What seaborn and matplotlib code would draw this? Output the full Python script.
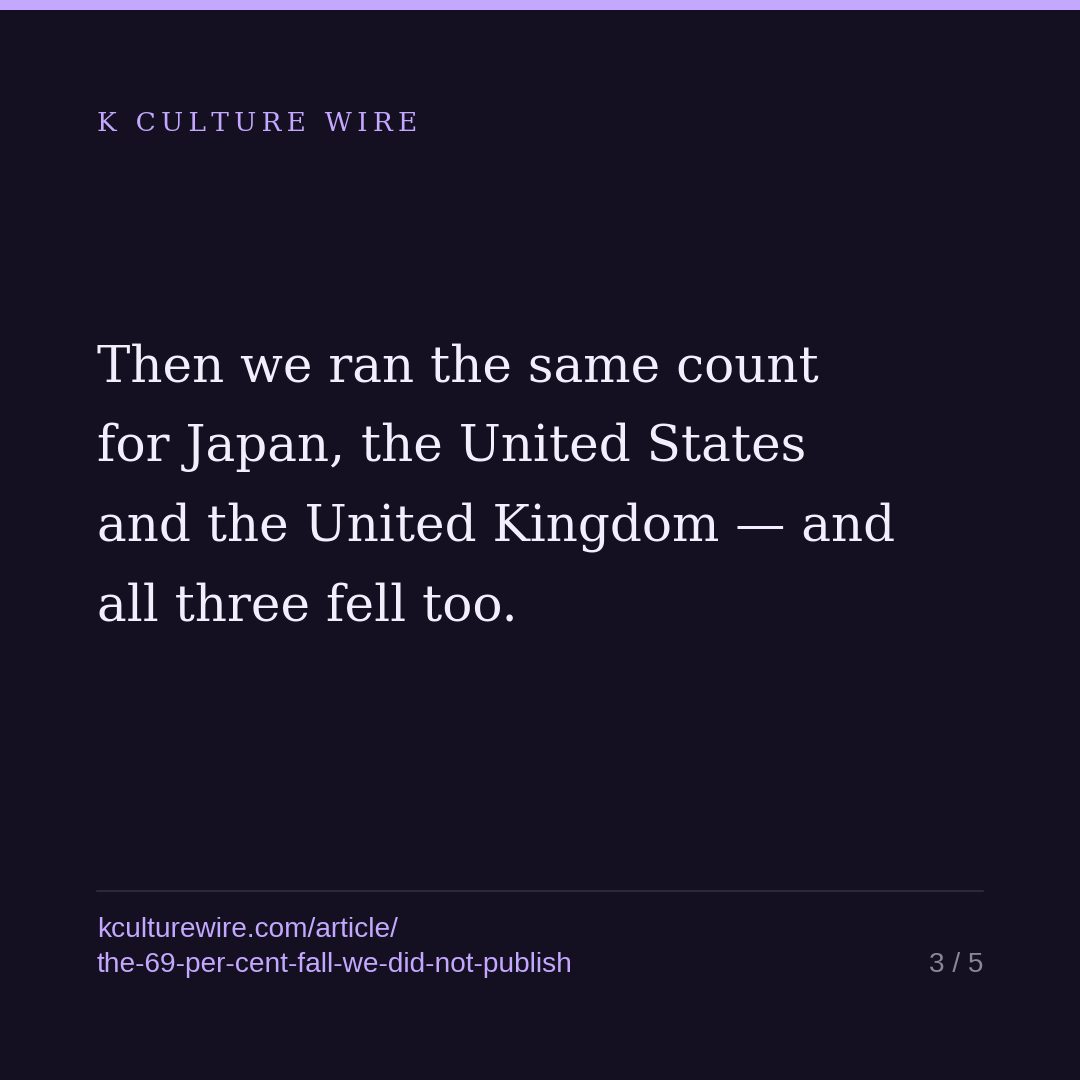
import matplotlib
matplotlib.use("Agg")
import matplotlib.pyplot as plt
import seaborn as sns

# ------------------------------------------------------------------ #
# card content
brand = "K CULTURE WIRE"
headline_lines = [
    "Then we ran the same count",
    "for Japan, the United States",
    "and the United Kingdom \u2014 and",
    "all three fell too.",
]
url_lines = ["kculturewire.com/article/", "the-69-per-cent-fall-we-did-not-publish"]
page_label = "3 / 5"

# colours
BG = "#141021"
ACCENT = "#c4a8ff"
HEAD = "#f3eefb"
MUTED = "#8b8697"
RULE = "#2c2838"

sns.set_theme(style="dark", rc={"axes.facecolor": BG, "figure.facecolor": BG})
plt.rcParams["font.family"] = ["DejaVu Serif"]

fig = plt.figure(figsize=(10.8, 10.8), dpi=100)
ax = fig.add_axes([0, 0, 1, 1])
ax.set_xlim(0, 1080)
ax.set_ylim(1080, 0)
ax.axis("off")

# top accent bar
ax.axhspan(0, 10, color=ACCENT, lw=0)

# brand, letter spaced
spaced = "\u2009".join(brand)
ax.text(97, 131, spaced, color=ACCENT, fontsize=19, family=["DejaVu Serif"],
        va="baseline", ha="left")

# headline
for i, line in enumerate(headline_lines):
    ax.text(97, 382 + i * 79.5, line, color=HEAD, fontsize=36,
            family=["DejaVu Serif"], va="baseline", ha="left")

# divider
sns.lineplot(x=[97, 983], y=[891, 891], color=RULE, lw=1.5, ax=ax)

# footer
for i, line in enumerate(url_lines):
    ax.text(97, 937 + i * 35, line, color=ACCENT, fontsize=20.2,
            family=["Liberation Sans"], va="baseline", ha="left")
ax.text(983, 972, page_label, color=MUTED, fontsize=20.2,
        family=["Liberation Sans"], va="baseline", ha="right")

ax.set_xlim(0, 1080)
ax.set_ylim(1080, 0)
fig.savefig("out.png", dpi=100, facecolor=BG)
